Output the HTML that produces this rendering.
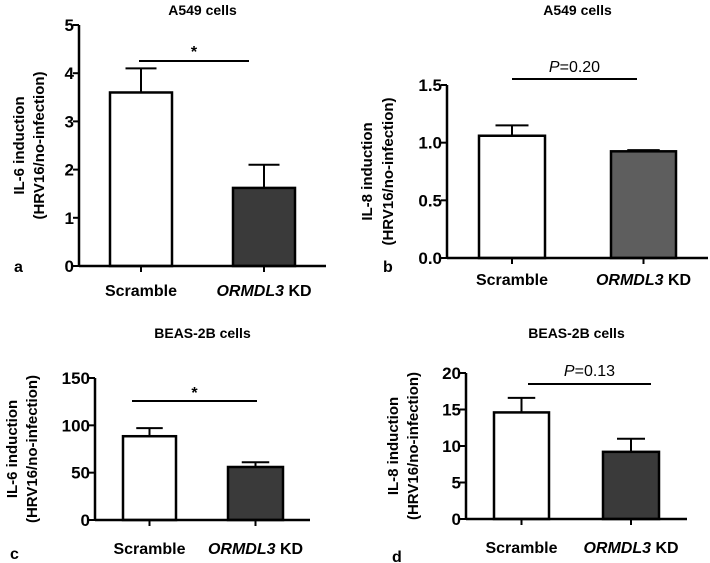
<!DOCTYPE html>
<html><head><meta charset="utf-8"><style>
body{margin:0;background:#fff}
svg{display:block;font-family:"Liberation Sans",Arial,sans-serif;font-weight:bold}
</style></head><body>
<svg id="fig" width="710" height="563" viewBox="0 0 710 563"></svg>
<script>
const categories=["Scramble","ORMDL3"];
const aValues=[3.6,1.62];const aErr=[0.5,0.48];const aTicks=[0,1,2,3,4,5];
const bValues=[1.06,0.925];const bErr=[0.09,0.01];const bTicks=[0,0.5,1.0,1.5];
const cValues=[88.5,56];const cErr=[8.5,5];const cTicks=[0,50,100,150];
const dValues=[14.6,9.2];const dErr=[2,1.8];const dTicks=[0,5,10,15,20];
const panels=[
 {id:"a",title:"A549 cells",vals:aValues,err:aErr,ticks:aTicks,dec:0,ax:79,y0:266,yTop:25,max:5,xEnd:326,bars:[[110,172],[233,295]],sig:[139,249,61],sigY:57,titleY:15,labY:296,letter:[14,272],fill2:"#3a3a3a",atx:[24,44],ytitle:"IL-6 induction"},
 {id:"b",title:"A549 cells",vals:bValues,err:bErr,ticks:bTicks,dec:1,ax:447,y0:258,yTop:85,max:1.5,xEnd:708,bars:[[479,545],[611,676]],sig:[512,637,79],sigVal:"=0.20",sigY:75,titleY:15,labY:285,letter:[383,272],fill2:"#5e5e5e",atx:[372,393],ytitle:"IL-8 induction"},
 {id:"c",title:"BEAS-2B cells",vals:cValues,err:cErr,ticks:cTicks,dec:0,ax:95,y0:520,yTop:378,max:150,xEnd:310,bars:[[123,176],[228,283]],sig:[132,257,401],sigY:398,titleY:338,labY:554,letter:[10,559],fill2:"#3a3a3a",atx:[17,37],ytitle:"IL-6 induction"},
 {id:"d",title:"BEAS-2B cells",vals:dValues,err:dErr,ticks:dTicks,dec:0,ax:466,y0:519,yTop:373,max:20,xEnd:687,bars:[[494,549],[603,659]],sig:[528,651,384],sigVal:"=0.13",sigY:379,titleY:338,labY:553,letter:[392,562],fill2:"#3a3a3a",atx:[398,418],ytitle:"IL-8 induction"}
];
const NS="http://www.w3.org/2000/svg";const svg=document.getElementById("fig");
function mk(t,a,p,txt){const e=document.createElementNS(NS,t);for(const k in a)e.setAttribute(k,a[k]);if(txt!==undefined)e.textContent=txt;(p||svg).appendChild(e);return e;}
panels.forEach(P=>{
 const g=mk("g",{});
 
 
 const y=v=>P.y0-(v/P.max)*(P.y0-P.yTop);
 const t=mk("text",{x:(P.ax+P.xEnd)/2,y:P.titleY,"text-anchor":"middle","font-size":"14"},g,P.title);
 
 
 const cy=(P.y0+P.yTop)/2;
 const yt=mk("text",{x:P.atx[0],y:cy,"text-anchor":"middle","font-size":"15",transform:`rotate(-90 ${P.atx[0]} ${cy})`},g,P.ytitle);
 
 
 const yt2=mk("text",{x:P.atx[1],y:cy,"text-anchor":"middle","font-size":"15",transform:`rotate(-90 ${P.atx[1]} ${cy})`},g,"(HRV16/no-infection)");
 
 
 P.vals.forEach((v,i)=>{
  const [x1,x2]=P.bars[i];const xm=(x1+x2)/2;
  const e=mk("line",{x1:xm,x2:xm,y1:y(v),y2:y(v+P.err[i]),stroke:"#000","stroke-width":2},g);
  
  
  const c=mk("line",{x1:xm-(x2-x1)*0.25,x2:xm+(x2-x1)*0.25,y1:y(v+P.err[i]),y2:y(v+P.err[i]),stroke:"#000","stroke-width":2},g);
  
  
  const r=mk("rect",{x:x1,y:y(v),width:x2-x1,height:P.y0-y(v),fill:i?P.fill2:"#fff",stroke:"#000","stroke-width":2.5},g);
  
  
  const tk=mk("line",{x1:xm,x2:xm,y1:P.y0,y2:P.y0+6,stroke:"#000","stroke-width":2},g);
  
  
  const lab=mk("text",{x:xm,y:P.labY,"text-anchor":"middle","font-size":"16"},g);
  
  
  if(i){mk("tspan",{"font-style":"italic"},lab,"ORMDL3");mk("tspan",{},lab," KD");}else lab.textContent=categories[0];
 });
 P.ticks.forEach(v=>{
  const tk=mk("line",{x1:P.ax-6,x2:P.ax,y1:y(v),y2:y(v),stroke:"#000","stroke-width":2},g);
  
  
  const tl=mk("text",{x:P.ax-5,y:y(v)+6,"text-anchor":"end","font-size":"17"},g,v.toFixed(P.dec));
  
  
 });
 const ya=mk("line",{x1:P.ax,x2:P.ax,y1:P.yTop,y2:P.y0,stroke:"#000","stroke-width":2.5},g);
 
 
 const xa=mk("line",{x1:P.ax,x2:P.xEnd,y1:P.y0,y2:P.y0,stroke:"#000","stroke-width":2.5},g);
 
 
 const s=P.sig;
 const sl=mk("line",{x1:s[0],x2:s[1],y1:s[2],y2:s[2],stroke:"#000","stroke-width":2},g);
 
 
 const st=mk("text",{x:(s[0]+s[1])/2,y:P.sigVal?P.sigY-3:P.sigY,"text-anchor":"middle","font-size":"16","font-weight":P.sigVal?"normal":"bold"},g);
 
 
 if(P.sigVal){mk("tspan",{"font-style":"italic"},st,"P");mk("tspan",{},st,P.sigVal);}else st.textContent="*";
 const l=mk("text",{x:P.letter[0],y:P.letter[1],"font-size":"16"},g,P.id);
 
 
});
</script>
</body></html>
